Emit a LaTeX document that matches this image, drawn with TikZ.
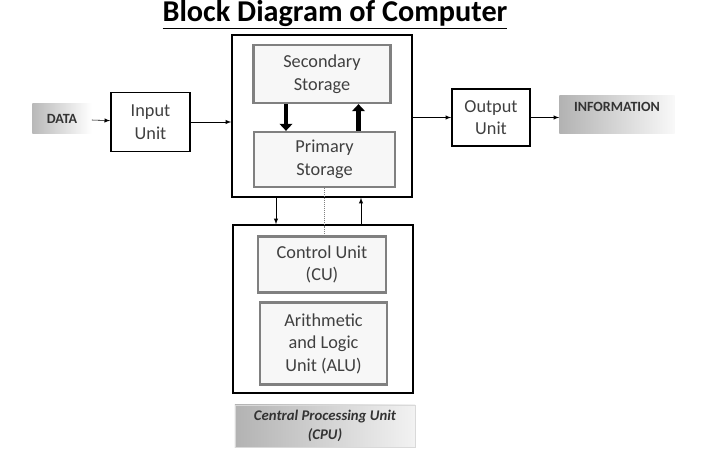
\documentclass[tikz,border=0pt]{standalone}
\usepackage{fontspec}
\setmainfont{Carlito}
\usepackage{xcolor}
\usetikzlibrary{shapes, arrows, arrows.meta, positioning, calc}

\begin{document}
\begin{tikzpicture}[x=0.025cm, y=-0.025cm,
    unit/.style={draw, line width=1.2pt, align=center, font=\fontsize{13}{16}\selectfont, text=black!75},
    store/.style={draw=gray, line width=1.6pt, fill=gray!6, align=center, font=\fontsize{13}{16}\selectfont, text=black!75},
    frame/.style={draw, line width=1pt},
    tag/.style={align=center, font=\bfseries\fontsize{10}{12}\selectfont, text=black!80},
    thick arrow/.style={-{Triangle[length=5pt,width=9pt]}, line width=3pt}]
      \useasboundingbox (0,0) rectangle (712,457);

      \node[font=\bfseries\fontsize{21.5}{24}\selectfont] (title) at (335,15) {\underline{Block Diagram of Computer}};

      \node[tag, left color=gray!55, right color=white, minimum width=1.475cm, minimum height=0.75cm] (data) at (62,119) {DATA};
      \node[unit, minimum width=1.975cm, minimum height=1.475cm] (input) at (150.5,122) {Input\\Unit};

      \node[frame, minimum width=4.5cm, minimum height=4.05cm] (mem) at (322,116) {};
      \node[store, minimum width=3.425cm, minimum height=1.45cm] (sec) at (322,74) {Secondary\\Storage};
      \node[store, minimum width=3.525cm, minimum height=1.375cm] (prim) at (324.5,159.5) {Primary\\Storage};

      \node[unit, minimum width=1.95cm, minimum height=1.425cm] (outp) at (491,117.5) {Output\\Unit};
      \node[tag, left color=gray!60, right color=gray!5, minimum width=2.875cm, minimum height=0.95cm, text depth=12pt] (info) at (617,115) {INFORMATION};

      \node[frame, minimum width=4.5cm, minimum height=4.2cm] (cpu) at (323,309) {};
      \node[store, minimum width=3.2cm, minimum height=1.4cm] (cu) at (322,264.5) {Control Unit\\(CU)};
      \node[store, minimum width=3.175cm, minimum height=2.05cm] (alu) at (323.5,343.5) {Arithmetic\\and Logic\\Unit (ALU)};
      \node[tag, font=\bfseries\itshape\fontsize{10.5}{14}\selectfont, draw=gray!30, left color=gray!60, right color=gray!10, minimum width=4.5cm, minimum height=1.05cm] (cpulbl) at (325,426) {Central Processing Unit\\(CPU)};

      \draw[-latex] (data) -- (input);
      \draw[-latex] (input.east) -- (mem.west |- input.east);
      \draw[-latex] (mem.east |- outp.west) -- (outp.west);
      \draw[-latex] (outp.east) -- (info.west |- outp.east);

      \draw[thick arrow] ([xshift=-0.9cm]sec.south) -- ([xshift=-0.9cm]sec.south |- prim.north);
      \draw[thick arrow] ([xshift=0.85cm]prim.north) -- ([xshift=0.85cm]prim.north |- sec.south);

      \draw[-latex] ([xshift=-1.15cm]mem.south) -- ([xshift=-1.15cm]mem.south |- cpu.north);
      \draw[-latex] ([xshift=0.95cm]cpu.north) -- ([xshift=0.95cm]cpu.north |- mem.south);
      \draw[densely dotted, gray] (prim.south) -- (prim.south |- cu.north);
    \end{tikzpicture}
\end{document}
